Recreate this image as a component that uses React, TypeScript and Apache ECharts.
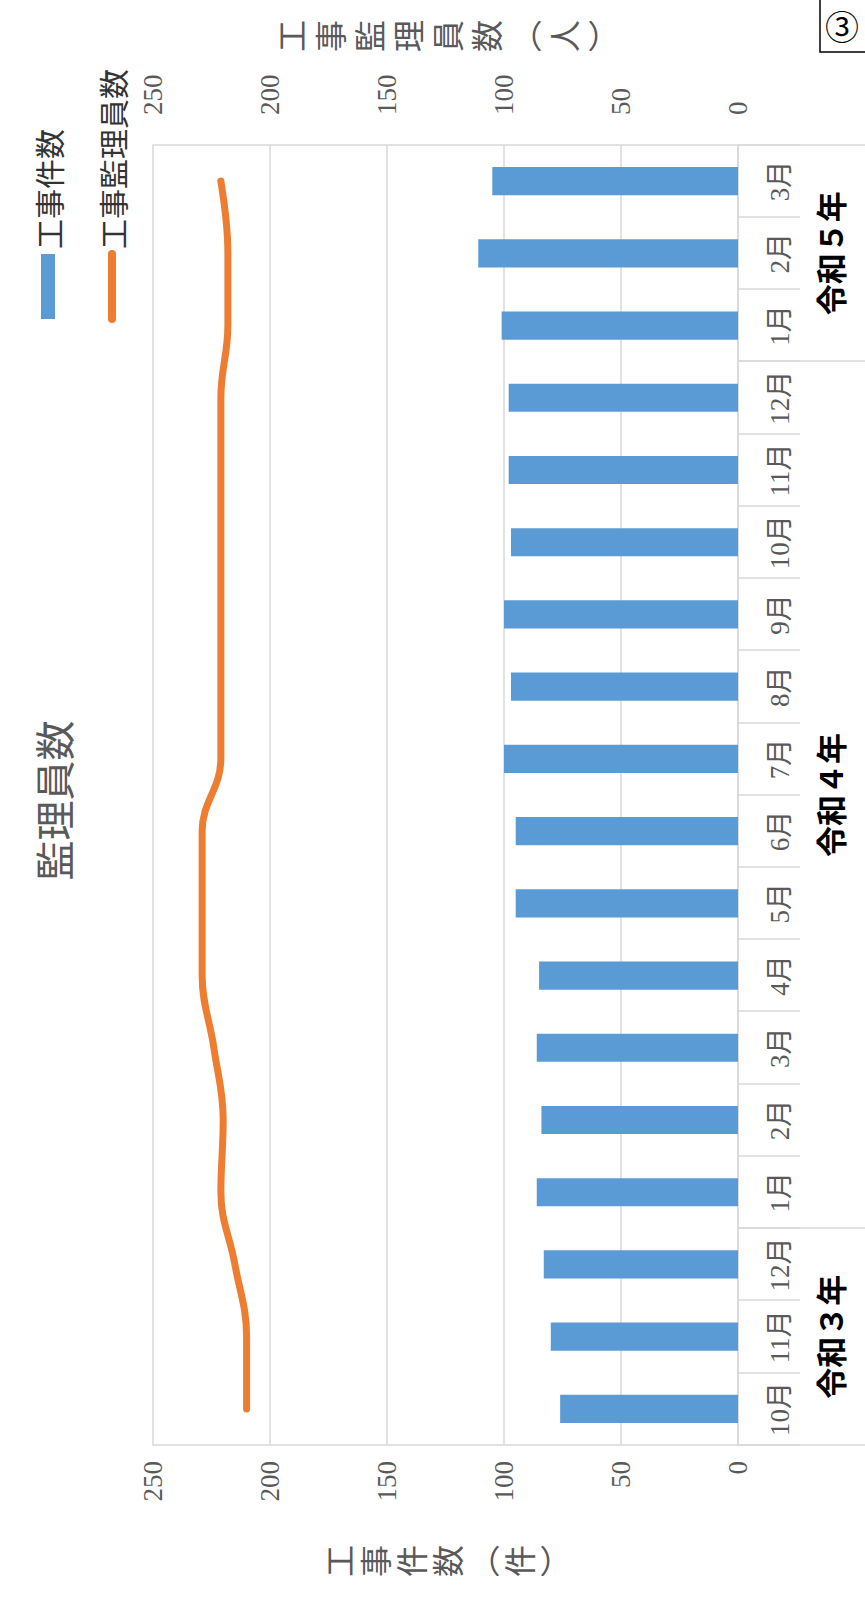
import React, { useEffect, useRef } from 'react';
import * as echarts from 'echarts';

// ---- data ----
const months = ['10月', '11月', '12月', '1月', '2月', '3月', '4月', '5月', '6月', '7月', '8月', '9月', '10月', '11月', '12月', '1月', '2月', '3月'];
const years = ['令和３年', '令和４年', '令和５年'];
const monthsPerYear = [3, 12, 3];
const constructionCounts = [76, 80, 83, 86, 84, 86, 85, 95, 95, 100, 97, 100, 97, 98, 98, 101, 111, 105];
const supervisorCounts = [210, 210, 215, 221, 220, 224, 229, 229, 229, 221, 221, 221, 221, 221, 221, 218, 218, 221];
const seriesNames = ['工事件数', '工事監理員数'];
const axisNames = ['工事件数（件）', '工事監理員数（人）'];
const chartTitle = '監理員数';
const pageMark = '③';

const W = 1601;
const H = 865;
const CJK = "'Noto Sans CJK JP', sans-serif";
const SERIF = "'Liberation Serif', 'Noto Sans CJK JP', serif";
const GRID_COLOR = '#D9D9D9';
const TEXT_COLOR = '#595959';
const BAR_COLOR = '#5B9BD5';
const LINE_COLOR = '#ED7D31';

const vertical = (s: string) =>
  s.replace(/（/g, '︵').replace(/）/g, '︶').split('').join('\n');

export default function App() {
  const ref = useRef<HTMLDivElement>(null);

  useEffect(() => {
    const chart = echarts.init(ref.current!, null, { renderer: 'svg', width: W, height: H });

    const boundaries: number[] = [0];
    monthsPerYear.forEach((n) => boundaries.push(boundaries[boundaries.length - 1] + n));
    const centers = monthsPerYear.map((n, i) => boundaries[i] + n / 2);

    const option = {
      animation: false,
      backgroundColor: '#ffffff',
      title: {
        text: chartTitle,
        left: 'center',
        top: 28,
        textStyle: { fontSize: 40, fontWeight: 'normal', color: TEXT_COLOR, fontFamily: CJK },
      },
      legend: {
        orient: 'vertical',
        left: 1273,
        top: 28,
        itemWidth: 65,
        itemHeight: 14,
        itemGap: 34,
        textStyle: { fontSize: 30, color: '#333333', fontFamily: CJK },
        data: [
          { name: seriesNames[0], icon: 'rect' },
          { name: seriesNames[1], itemStyle: { opacity: 0 }, lineStyle: { width: 8, cap: 'round', color: LINE_COLOR } },
        ],
      },
      grid: { left: 156, right: 145, top: 153, bottom: 127, containLabel: false },
      xAxis: [
        {
          type: 'category',
          data: months,
          position: 'bottom',
          boundaryGap: true,
          axisLine: { show: true, lineStyle: { color: GRID_COLOR, width: 1.5 } },
          axisTick: { show: true, interval: 0, length: 62, lineStyle: { color: GRID_COLOR, width: 1.5 } },
          axisLabel: { interval: 0, margin: 28, fontSize: 27, color: TEXT_COLOR, fontFamily: SERIF },
          splitLine: { show: false },
        },
        {
          type: 'value',
          position: 'bottom',
          min: 0,
          max: boundaries[boundaries.length - 1],
          axisLine: { show: false },
          splitLine: { show: false },
          axisTick: {
            show: true,
            customValues: boundaries,
            length: 127,
            lineStyle: { color: GRID_COLOR, width: 1.5 },
          },
          axisLabel: {
            customValues: centers,
            formatter: (v: number) => {
              const i = centers.indexOf(v);
              return i >= 0 ? years[i] : '';
            },
            margin: 76,
            fontSize: 31,
            fontWeight: 'bold',
            color: '#000000',
            fontFamily: CJK,
          },
        },
      ],
      yAxis: [
        {
          type: 'value',
          min: 0,
          max: 250,
          interval: 50,
          position: 'left',
          name: vertical(axisNames[0]),
          nameLocation: 'middle',
          nameRotate: 0,
          nameGap: 100,
          nameTextStyle: { fontSize: 32, lineHeight: 36, color: TEXT_COLOR, fontFamily: CJK },
          axisLine: { show: true, lineStyle: { color: GRID_COLOR, width: 1.5 } },
          axisTick: { show: false },
          axisLabel: { fontSize: 27, color: TEXT_COLOR, margin: 16, fontFamily: SERIF },
          splitLine: { show: true, lineStyle: { color: GRID_COLOR, width: 1.5 } },
        },
        {
          type: 'value',
          min: 0,
          max: 250,
          interval: 50,
          position: 'right',
          name: vertical(axisNames[1]),
          nameLocation: 'middle',
          nameRotate: 0,
          nameGap: 93,
          nameTextStyle: { fontSize: 32, lineHeight: 39, color: TEXT_COLOR, fontFamily: CJK },
          axisLine: { show: true, lineStyle: { color: GRID_COLOR, width: 1.5 } },
          axisTick: { show: false },
          axisLabel: { fontSize: 27, color: TEXT_COLOR, margin: 30, fontFamily: SERIF },
          splitLine: { show: false },
        },
      ],
      series: [
        {
          name: seriesNames[0],
          type: 'bar',
          xAxisIndex: 0,
          yAxisIndex: 0,
          data: constructionCounts,
          barWidth: '39%',
          itemStyle: { color: BAR_COLOR },
        },
        {
          name: seriesNames[1],
          type: 'line',
          xAxisIndex: 0,
          yAxisIndex: 1,
          data: supervisorCounts,
          smooth: 0.4,
          symbol: 'none',
          itemStyle: { color: LINE_COLOR },
          lineStyle: { color: LINE_COLOR, width: 7, cap: 'round' },
        },
      ],
      graphic: [
        {
          type: 'rect',
          shape: { x: 1549, y: 820, width: 100, height: 100 },
          style: { fill: '#ffffff', stroke: '#000000', lineWidth: 1.5 },
        },
        {
          type: 'text',
          x: 1576,
          y: 842,
          rotation: -Math.PI / 2,
          style: { text: pageMark, fontSize: 34, fill: '#000000', align: 'center', verticalAlign: 'middle', fontFamily: CJK },
        },
      ],
    };

    chart.setOption(option as any);
    return () => chart.dispose();
  }, []);

  return (
    <div style={{ position: 'absolute', left: 0, top: 0, width: H, height: W, overflow: 'hidden', background: '#ffffff' }}>
      <div
        ref={ref}
        style={{
          position: 'absolute',
          left: 0,
          top: 0,
          width: W,
          height: H,
          transformOrigin: '0 0',
          transform: `translateY(${W}px) rotate(-90deg)`,
        }}
      />
    </div>
  );
}
